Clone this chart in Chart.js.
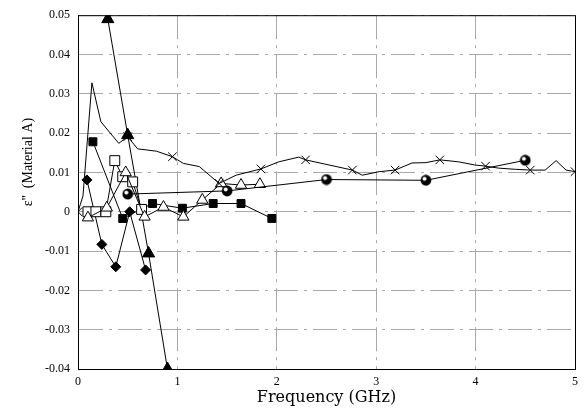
<!DOCTYPE html>
<html>
<head>
<meta charset="utf-8">
<script src="https://cdn.jsdelivr.net/npm/chart.js@4.4.1/dist/chart.umd.min.js"></script>
<style>
  html, body { margin: 0; padding: 0; background: #fff; }
  #chart { display: block; }
</style>
</head>
<body>
<canvas id="chart" width="584" height="411"></canvas>
<script>
// frequency (GHz) / loss values for each measurement run
const triFillX = [0.3, 0.5, 0.71, 0.9];
const triFillY = [0.049, 0.0195, -0.0106, -0.04];

const diamondX = [0.09, 0.24, 0.38, 0.52, 0.68];
const diamondY = [0.0081, -0.0083, -0.014, 0, -0.0148];

const sqFillX = [0.15, 0.45, 0.75, 1.05, 1.36, 1.64, 1.95];
const sqFillY = [0.0178, -0.0017, 0.0021, 0.0009, 0.0021, 0.0021, -0.0017];

const sqOpenX = [0.1, 0.18, 0.28, 0.37, 0.45, 0.55, 0.64];
const sqOpenY = [0, 0, 0, 0.013, 0.0089, 0.0076, 0.0006];

const triOpenX = [0.1, 0.29, 0.48, 0.67, 0.86, 1.06, 1.25, 1.44, 1.64, 1.83];
const triOpenY = [-0.0015, 0.001, 0.01, -0.0013, 0.0012, -0.0013, 0.003, 0.0072, 0.0068, 0.007];

const circleX = [0.5, 1.5, 2.5, 3.5, 4.5];
const circleY = [0.0045, 0.0053, 0.0082, 0.008, 0.0131];

const crossX = [0, 0.05, 0.14, 0.23, 0.41, 0.5, 0.6, 0.79, 0.95, 1.06, 1.22, 1.42, 1.59, 1.84, 2.02, 2.22,
  2.29, 2.76, 2.86, 3.03, 3.19, 3.36, 3.5, 3.64, 3.83, 3.99, 4.1, 4.23, 4.4, 4.55, 4.7, 4.81, 4.91, 5.0];
const crossY = [0, 0.004, 0.0328, 0.0229, 0.0174, 0.0191, 0.016, 0.0154, 0.014, 0.0123, 0.0115, 0.0072, 0.0093, 0.0109, 0.0127, 0.0139,
  0.0132, 0.0106, 0.0093, 0.0102, 0.0106, 0.0124, 0.0125, 0.0132, 0.0127, 0.0119, 0.0116, 0.0111, 0.0108, 0.0106, 0.0106, 0.013, 0.0106, 0.0102];
// which samples of the dense run carry an X marker
const crossMarks = [0, 5, 8, 11, 13, 16, 17, 20, 23, 26, 29, 33];

const xTicks = [0, 1, 2, 3, 4, 5];
const yTicks = [-0.04, -0.03, -0.02, -0.01, 0, 0.01, 0.02, 0.03, 0.04, 0.05];

function pts(xs, ys) {
  return xs.map((x, i) => ({ x: x, y: ys[i] }));
}

// shaded ball used for the circle run
function ballImage() {
  const c = document.createElement('canvas');
  c.width = 12; c.height = 12;
  const g = c.getContext('2d');
  g.fillStyle = '#000';
  g.beginPath(); g.arc(6, 6, 5.4, 0, Math.PI * 2); g.fill();
  g.fillStyle = '#fff';
  g.beginPath(); g.arc(4.6, 4.6, 2, 0, Math.PI * 2); g.fill();
  return c;
}

function series(xs, ys, style, radius, fill) {
  return {
    data: pts(xs, ys),
    showLine: true,
    borderColor: '#000',
    borderWidth: 1,
    pointStyle: style,
    pointRadius: radius,
    pointBackgroundColor: fill,
    pointBorderColor: '#000',
    pointBorderWidth: 1,
    tension: 0
  };
}

const plotFrame = {
  id: 'plotFrame',
  afterDraw(chart) {
    const { ctx, chartArea: a } = chart;
    ctx.save();
    ctx.strokeStyle = '#000';
    ctx.lineWidth = 1;
    ctx.strokeRect(a.left + 0.5, a.top + 0.5, a.right - a.left, a.bottom - a.top);
    // y axis caption
    ctx.translate(28, 162);
    ctx.rotate(-Math.PI / 2);
    ctx.fillStyle = '#000';
    ctx.font = '14px "Liberation Serif", serif';
    ctx.textAlign = 'center';
    ctx.textBaseline = 'middle';
    ctx.fillText("\u03b5''  (Material A)", 0, 0);
    ctx.restore();
  }
};

const tickFont = { family: '"Liberation Serif", serif', size: 12 };
const gridStyle = { color: '#a8a8a8', lineWidth: 1, drawTicks: false };
const gridDash = { color: '#000', dash: [24, 6, 3, 6] };

new Chart(document.getElementById('chart'), {
  type: 'scatter',
  data: {
    datasets: [
      series(crossX, crossY, 'crossRot', ctx => crossMarks.includes(ctx.dataIndex) ? 6 : 0, '#000'),
      series(circleX, circleY, ballImage(), 6, '#000'),
      series(triOpenX, triOpenY, 'triangle', 6.5, '#fff'),
      series(sqOpenX, sqOpenY, 'rect', 7, '#fff'),
      series(sqFillX, sqFillY, 'rect', 5.6, '#000'),
      series(diamondX, diamondY, 'rectRot', 5, '#000'),
      series(triFillX, triFillY, 'triangle', 7, '#000')
    ]
  },
  options: {
    responsive: false,
    animation: false,
    layout: { padding: { top: 15, right: 7, left: 0, bottom: 0 } },
    plugins: { legend: { display: false }, tooltip: { enabled: false } },
    scales: {
      x: {
        type: 'linear',
        min: 0, max: 5,
        afterBuildTicks: s => { s.ticks = xTicks.map(v => ({ value: v })); },
        afterFit: s => { s.height = 42; },
        ticks: { color: '#000', padding: 6, font: tickFont },
        grid: gridStyle,
        border: gridDash,
        title: {
          display: true,
          text: 'Frequency (GHz)',
          color: '#000',
          font: { family: '"DejaVu Serif", serif', size: 16 },
          padding: { top: 0, bottom: 4 }
        }
      },
      y: {
        type: 'linear',
        min: -0.04, max: 0.05,
        afterBuildTicks: s => { s.ticks = yTicks.map(v => ({ value: v })); },
        afterFit: s => { s.width = 78; },
        ticks: {
          color: '#000', padding: 8,
          font: tickFont,
          callback: v => String(Number(v.toFixed(2)))
        },
        grid: gridStyle,
        border: gridDash
      }
    }
  },
  plugins: [plotFrame]
});
</script>
</body>
</html>
